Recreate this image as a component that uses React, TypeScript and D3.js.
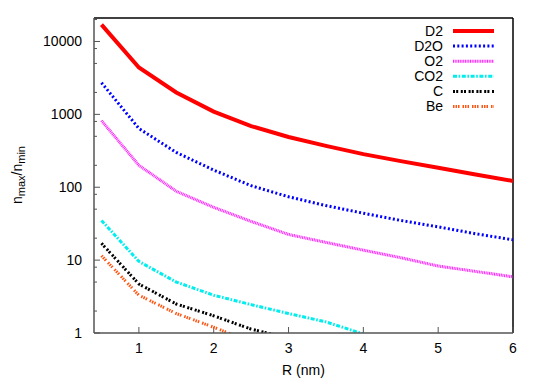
import React from "react";
import * as d3 from "d3";

// radius in nm
const radius = [0.5, 1, 1.5, 2, 2.5, 3, 3.5, 4, 4.5, 5, 5.5, 6];

// n_max / n_min per moderator
const d2 = [17000, 4400, 2000, 1090, 690, 490, 370, 285, 228, 185, 150, 122];
const d2o = [2720, 640, 300, 172, 105, 74, 56, 44, 35, 28.6, 23, 19];
const o2 = [820, 200, 88, 53, 34, 22.5, 17.5, 13.7, 10.8, 8.3, 7, 5.9];
const co2 = [35, 9.6, 5.0, 3.3, 2.45, 1.85, 1.42, 0.97];
const carbon = [17, 4.7, 2.5, 1.72, 1.13, 0.85];
const beryllium = [11.5, 3.3, 1.85, 1.2, 0.75];

const seriesNames = ["D2", "D2O", "O2", "CO2", "C", "Be"];
const seriesValues = [d2, d2o, o2, co2, carbon, beryllium];
const seriesColors = ["#ff0000", "#0000ff", "#ff22ff", "#00eeee", "#000000", "#ff5511"];
const seriesDash = ["", "2,2.3", "1,0.7", "4,1.6,1.6,1.6", "2,1.2,2,2.6", "1.5,1,1.5,1,1.5,3"];
const seriesWidth = [4, 3, 3, 3, 3, 3];

const xTicks = [1, 2, 3, 4, 5, 6];
const yTicks = [1, 10, 100, 1000, 10000];
const yMinor = [2, 5, 8, 20, 50, 80, 200, 500, 800, 2000, 5000, 8000, 20000];

const W = 538;
const H = 378;
const m = { left: 94, right: 513, top: 18, bottom: 333 };
const font = "'Liberation Sans', Arial, Helvetica, sans-serif";

export default function App() {
  const x = d3.scaleLinear().domain([0.4, 6]).range([m.left, m.right]);
  const y = d3.scaleLog().domain([1, 21000]).range([m.bottom, m.top]);

  const line = d3
    .line<[number, number]>()
    .x((d) => x(d[0]))
    .y((d) => y(Math.max(d[1], 0.01)));

  const axisColor = "#555";

  return (
    <svg
      width={W}
      height={H}
      style={{ position: "absolute", left: 0, top: 0, background: "#fff" }}
      fontFamily={font}
    >
      <defs>
        <clipPath id="plot">
          <rect x={m.left} y={m.top} width={m.right - m.left} height={m.bottom - m.top} />
        </clipPath>
      </defs>

      {/* frame: top/right black, axes grey */}
      <line x1={m.left} x2={m.right} y1={m.top} y2={m.top} stroke="#000" strokeWidth={1.5} />
      <line x1={m.right} x2={m.right} y1={m.top} y2={m.bottom} stroke="#000" strokeWidth={1.5} />

      {/* y ticks */}
      {yTicks.map((t) => (
        <g key={"y" + t}>
          <line x1={m.left} x2={m.left + 6} y1={y(t)} y2={y(t)} stroke={axisColor} strokeWidth={1} />
          <text x={82} y={y(t)} dy="0.35em" textAnchor="end" fontSize={14} fill="#000">
            {t}
          </text>
        </g>
      ))}
      {yMinor.map((t) => (
        <line key={"ym" + t} x1={m.left} x2={m.left + 3} y1={y(t)} y2={y(t)} stroke={axisColor} strokeWidth={1} />
      ))}

      {/* x ticks */}
      {xTicks.map((t) => (
        <g key={"x" + t}>
          <line x1={x(t)} x2={x(t)} y1={m.bottom} y2={m.bottom - 6} stroke={axisColor} strokeWidth={1} />
          <text x={x(t)} y={353} textAnchor="middle" fontSize={14} fill="#000">
            {t}
          </text>
        </g>
      ))}

      {/* series */}
      <g clipPath="url(#plot)">
        {seriesValues.map((vals, i) => (
          <path
            key={seriesNames[i]}
            d={line(vals.map((v, j) => [radius[j], v] as [number, number])) || ""}
            fill="none"
            stroke={seriesColors[i]}
            strokeWidth={seriesWidth[i]}
            strokeDasharray={seriesDash[i] || undefined}
          />
        ))}
      </g>

      <line x1={m.left} x2={m.left} y1={m.top} y2={m.bottom} stroke={axisColor} strokeWidth={1.5} />
      <line x1={m.left} x2={m.right} y1={m.bottom} y2={m.bottom} stroke={axisColor} strokeWidth={1.5} />

      {/* legend */}
      {seriesNames.map((name, i) => {
        const ly = 31 + i * 15.1;
        return (
          <g key={"lg" + name}>
            <text x={443} y={ly} dy="0.35em" textAnchor="end" fontSize={14} fill="#000">
              {name}
            </text>
            <line
              x1={453}
              x2={494}
              y1={ly}
              y2={ly}
              stroke={seriesColors[i]}
              strokeWidth={seriesWidth[i]}
              strokeDasharray={seriesDash[i] || undefined}
            />
          </g>
        );
      })}

      {/* axis titles */}
      <text x={(m.left + m.right) / 2} y={375} textAnchor="middle" fontSize={14} fill="#000">
        R (nm)
      </text>
      <text transform="translate(22,175) rotate(-90)" textAnchor="middle" fontSize={14} fill="#000">
        n<tspan fontSize={11} dy={3}>max</tspan>
        <tspan dy={-3}>/n</tspan>
        <tspan fontSize={11} dy={3}>min</tspan>
      </text>
    </svg>
  );
}
